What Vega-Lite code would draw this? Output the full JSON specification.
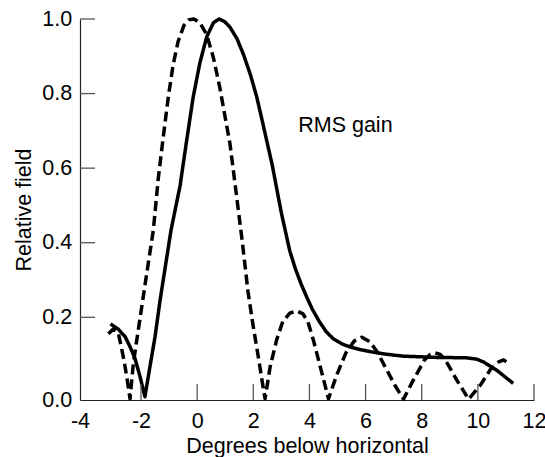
{
  "$schema": "https://vega.github.io/schema/vega-lite/v6.json",
  "width": 454,
  "height": 381,
  "autosize": "none",
  "padding": {"left": 80, "top": 19, "right": 11, "bottom": 57},
  "background": "white",
  "config": {
    "view": {"stroke": null},
    "font": "Liberation Sans",
    "axis": {"grid": false}
  },
  "datasets": {
    "curves": [
      {"series": "RMS gain", "x": -3.0, "y": 0.184},
      {"series": "RMS gain", "x": -2.74, "y": 0.171},
      {"series": "RMS gain", "x": -2.52, "y": 0.153},
      {"series": "RMS gain", "x": -2.36, "y": 0.129},
      {"series": "RMS gain", "x": -2.2, "y": 0.101},
      {"series": "RMS gain", "x": -2.03, "y": 0.056},
      {"series": "RMS gain", "x": -1.86, "y": 0.008},
      {"series": "RMS gain", "x": -1.68, "y": 0.081},
      {"series": "RMS gain", "x": -1.5, "y": 0.153},
      {"series": "RMS gain", "x": -1.32, "y": 0.246},
      {"series": "RMS gain", "x": -0.93, "y": 0.434},
      {"series": "RMS gain", "x": -0.61, "y": 0.552},
      {"series": "RMS gain", "x": -0.37, "y": 0.676},
      {"series": "RMS gain", "x": -0.14, "y": 0.791},
      {"series": "RMS gain", "x": 0.1, "y": 0.883},
      {"series": "RMS gain", "x": 0.34, "y": 0.952},
      {"series": "RMS gain", "x": 0.58, "y": 0.99},
      {"series": "RMS gain", "x": 0.78, "y": 1.0},
      {"series": "RMS gain", "x": 0.98, "y": 0.993},
      {"series": "RMS gain", "x": 1.17, "y": 0.978},
      {"series": "RMS gain", "x": 1.42, "y": 0.947},
      {"series": "RMS gain", "x": 1.65, "y": 0.905},
      {"series": "RMS gain", "x": 1.9, "y": 0.85},
      {"series": "RMS gain", "x": 2.12, "y": 0.792},
      {"series": "RMS gain", "x": 2.31, "y": 0.73},
      {"series": "RMS gain", "x": 2.67, "y": 0.61},
      {"series": "RMS gain", "x": 3.0, "y": 0.48},
      {"series": "RMS gain", "x": 3.3, "y": 0.378},
      {"series": "RMS gain", "x": 3.5, "y": 0.33},
      {"series": "RMS gain", "x": 3.7, "y": 0.29},
      {"series": "RMS gain", "x": 3.9, "y": 0.255},
      {"series": "RMS gain", "x": 4.1, "y": 0.222},
      {"series": "RMS gain", "x": 4.35, "y": 0.19},
      {"series": "RMS gain", "x": 4.6, "y": 0.165},
      {"series": "RMS gain", "x": 4.85, "y": 0.148},
      {"series": "RMS gain", "x": 5.15, "y": 0.136},
      {"series": "RMS gain", "x": 5.45, "y": 0.128},
      {"series": "RMS gain", "x": 5.8, "y": 0.122},
      {"series": "RMS gain", "x": 6.16, "y": 0.117},
      {"series": "RMS gain", "x": 6.7, "y": 0.111},
      {"series": "RMS gain", "x": 7.35, "y": 0.106},
      {"series": "RMS gain", "x": 8.54, "y": 0.103},
      {"series": "RMS gain", "x": 9.6, "y": 0.102},
      {"series": "RMS gain", "x": 9.95, "y": 0.099},
      {"series": "RMS gain", "x": 10.2, "y": 0.092},
      {"series": "RMS gain", "x": 10.67, "y": 0.072},
      {"series": "RMS gain", "x": 11.26, "y": 0.04},

      {"series": "Free space", "x": -3.07, "y": 0.16},
      {"series": "Free space", "x": -2.9, "y": 0.172},
      {"series": "Free space", "x": -2.75, "y": 0.164},
      {"series": "Free space", "x": -2.66, "y": 0.133},
      {"series": "Free space", "x": -2.56, "y": 0.097},
      {"series": "Free space", "x": -2.46, "y": 0.053},
      {"series": "Free space", "x": -2.36, "y": 0.003},
      {"series": "Free space", "x": -2.25, "y": 0.089},
      {"series": "Free space", "x": -2.09, "y": 0.169},
      {"series": "Free space", "x": -1.92, "y": 0.255},
      {"series": "Free space", "x": -1.74, "y": 0.345},
      {"series": "Free space", "x": -1.56, "y": 0.434},
      {"series": "Free space", "x": -1.39, "y": 0.569},
      {"series": "Free space", "x": -1.22, "y": 0.676},
      {"series": "Free space", "x": -1.03, "y": 0.789},
      {"series": "Free space", "x": -0.86, "y": 0.875},
      {"series": "Free space", "x": -0.68, "y": 0.939},
      {"series": "Free space", "x": -0.47, "y": 0.983},
      {"series": "Free space", "x": -0.29, "y": 0.998},
      {"series": "Free space", "x": -0.11, "y": 1.0},
      {"series": "Free space", "x": 0.1, "y": 0.99},
      {"series": "Free space", "x": 0.34, "y": 0.958},
      {"series": "Free space", "x": 0.58, "y": 0.896},
      {"series": "Free space", "x": 0.81, "y": 0.815},
      {"series": "Free space", "x": 0.99, "y": 0.74},
      {"series": "Free space", "x": 1.17, "y": 0.665},
      {"series": "Free space", "x": 1.38, "y": 0.54},
      {"series": "Free space", "x": 1.6, "y": 0.408},
      {"series": "Free space", "x": 1.81, "y": 0.27},
      {"series": "Free space", "x": 2.0, "y": 0.177},
      {"series": "Free space", "x": 2.18, "y": 0.104},
      {"series": "Free space", "x": 2.31, "y": 0.048},
      {"series": "Free space", "x": 2.42, "y": 0.003},
      {"series": "Free space", "x": 2.6, "y": 0.08},
      {"series": "Free space", "x": 2.83, "y": 0.145},
      {"series": "Free space", "x": 3.05, "y": 0.19},
      {"series": "Free space", "x": 3.3, "y": 0.211},
      {"series": "Free space", "x": 3.55, "y": 0.217},
      {"series": "Free space", "x": 3.77, "y": 0.209},
      {"series": "Free space", "x": 3.95, "y": 0.188},
      {"series": "Free space", "x": 4.14, "y": 0.145},
      {"series": "Free space", "x": 4.38, "y": 0.082},
      {"series": "Free space", "x": 4.68, "y": 0.003},
      {"series": "Free space", "x": 4.97, "y": 0.06},
      {"series": "Free space", "x": 5.3, "y": 0.114},
      {"series": "Free space", "x": 5.6, "y": 0.143},
      {"series": "Free space", "x": 5.87, "y": 0.152},
      {"series": "Free space", "x": 6.15, "y": 0.141},
      {"series": "Free space", "x": 6.4, "y": 0.118},
      {"series": "Free space", "x": 6.7, "y": 0.08},
      {"series": "Free space", "x": 7.05, "y": 0.035},
      {"series": "Free space", "x": 7.35, "y": 0.002},
      {"series": "Free space", "x": 7.7, "y": 0.048},
      {"series": "Free space", "x": 8.1, "y": 0.097},
      {"series": "Free space", "x": 8.3, "y": 0.11},
      {"series": "Free space", "x": 8.48, "y": 0.114},
      {"series": "Free space", "x": 8.66, "y": 0.11},
      {"series": "Free space", "x": 8.85, "y": 0.096},
      {"series": "Free space", "x": 9.25, "y": 0.048},
      {"series": "Free space", "x": 9.67, "y": 0.002},
      {"series": "Free space", "x": 10.09, "y": 0.036},
      {"series": "Free space", "x": 10.44, "y": 0.073},
      {"series": "Free space", "x": 10.74, "y": 0.092},
      {"series": "Free space", "x": 10.92, "y": 0.097},
      {"series": "Free space", "x": 11.12, "y": 0.087}
    ],
    "labels": [
      {"x": 3.6, "y": 0.697, "text": "RMS gain"}
    ],
    "xticks": [
      {"v": -2}, {"v": 0}, {"v": 2}, {"v": 4}, {"v": 6}, {"v": 8}, {"v": 10}, {"v": 12}
    ],
    "yticks": [
      {"v": 0.2}, {"v": 0.4}, {"v": 0.6}, {"v": 0.8}, {"v": 1.0}
    ]
  },
  "layer": [
    {
      "data": {"name": "curves"},
      "mark": {"type": "line", "color": "black", "strokeWidth": 3.5, "strokeCap": "butt", "strokeJoin": "round"},
      "encoding": {
        "x": {
          "field": "x", "type": "quantitative",
          "scale": {"domain": [-4, -2, 12], "range": [0, 61, 454], "nice": false, "zero": false},
          "axis": {
            "orient": "bottom",
            "title": "Degrees below horizontal",
            "values": [-4, -2, 0, 2, 4, 6, 8, 10, 12],
            "labelExpr": "'' + datum.value",
            "ticks": false,
            "labelPadding": 10,
            "labelFontSize": 21.5,
            "labelColor": "black",
            "labelFont": "Liberation Sans",
            "labelFlush": false,
            "labelOverlap": false,
            "domainColor": "#222",
            "domainWidth": 1.2,
            "titleFontSize": 21.5,
            "titleFontWeight": "normal",
            "titleColor": "black",
            "titleFont": "Liberation Sans",
            "titleBaseline": "top",
            "titleAlign": "center",
            "titleX": 227,
            "titleY": 35
          }
        },
        "y": {
          "field": "y", "type": "quantitative",
          "scale": {"domain": [0, 0.2, 1], "range": [381, 298.3, 0], "nice": false, "zero": false},
          "axis": {
            "orient": "left",
            "title": "Relative field",
            "values": [0, 0.2, 0.4, 0.6, 0.8, 1.0],
            "format": ".1f",
            "ticks": false,
            "labelPadding": 8.3,
            "labelFontSize": 21.5,
            "labelColor": "black",
            "labelFont": "Liberation Sans",
            "labelFlush": false,
            "labelOverlap": false,
            "domainColor": "#222",
            "domainWidth": 1.2,
            "titleFontSize": 21.5,
            "titleFontWeight": "normal",
            "titleColor": "black",
            "titleFont": "Liberation Sans",
            "titleAngle": -90,
            "titleBaseline": "bottom",
            "titleAlign": "center",
            "titleX": -45,
            "titleY": 190.5
          }
        },
        "detail": {"field": "series"},
        "strokeDash": {
          "field": "series", "type": "nominal",
          "scale": {"domain": ["RMS gain", "Free space"], "range": [[1, 0], [10, 5]]},
          "legend": null
        }
      }
    },
    {
      "data": {"name": "xticks"},
      "mark": {"type": "rule", "color": "#555", "strokeWidth": 1.3},
      "encoding": {
        "x": {"field": "v", "type": "quantitative"},
        "y": {"datum": 0},
        "y2": {"datum": 0.0387}
      }
    },
    {
      "data": {"name": "yticks"},
      "mark": {"type": "rule", "color": "#555", "strokeWidth": 1.3},
      "encoding": {
        "y": {"field": "v", "type": "quantitative"},
        "x": {"datum": -4},
        "x2": {"datum": -3.508}
      }
    },
    {
      "data": {"name": "labels"},
      "mark": {"type": "text", "align": "left", "baseline": "alphabetic", "fontSize": 21.5, "font": "Liberation Sans", "color": "black"},
      "encoding": {
        "x": {"field": "x", "type": "quantitative"},
        "y": {"field": "y", "type": "quantitative"},
        "text": {"field": "text"}
      }
    }
  ]
}
